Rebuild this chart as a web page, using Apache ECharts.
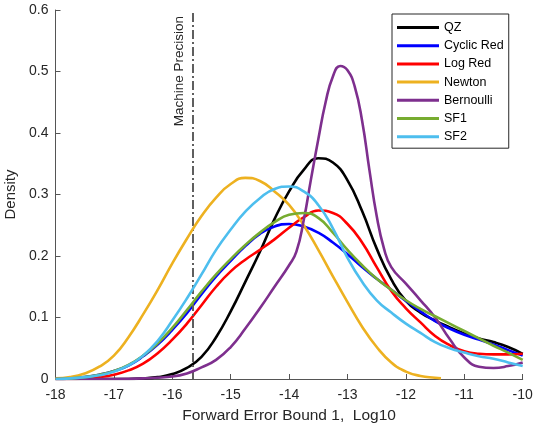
<!DOCTYPE html>
<html>
<head>
<meta charset="utf-8">
<script src="https://cdn.jsdelivr.net/npm/echarts@6/dist/echarts.min.js"></script>
<style>html,body{margin:0;padding:0;background:#fff;}#c{width:533px;height:430px;}</style>
</head>
<body>
<div id="c"></div>
<script>
// ---- data ----
const seriesNames = ['QZ', 'Cyclic Red', 'Log Red', 'Newton', 'Bernoulli', 'SF1', 'SF2'];
const xTicks = [-18, -17, -16, -15, -14, -13, -12, -11, -10];
const yTicks = [0, 0.1, 0.2, 0.3, 0.4, 0.5, 0.6];
const machinePrecision = -15.6536;

const xGrid = [-18,-17.75,-17.5,-17.25,-17,-16.75,-16.5,-16.25,-16,-15.75,-15.5,-15.25,-15,-14.75,-14.5,-14.25,-14,-13.75,-13.5,-13.25,-13,-12.75,-12.5,-12.25,-12,-11.75,-11.5,-11.25,-11,-10.75,-10.5,-10.25,-10];

const qz      = [0,0,0,0,0,0,0.001,0.003,0.008,0.018,0.036,0.068,0.11,0.158,0.207,0.26,0.305,0.34,0.359,0.352,0.323,0.273,0.212,0.162,0.127,0.108,0.095,0.084,0.074,0.066,0.06,0.052,0.041];
const cyclic  = [0,0.001,0.003,0.007,0.013,0.022,0.037,0.056,0.08,0.107,0.138,0.167,0.192,0.216,0.236,0.248,0.252,0.248,0.238,0.222,0.203,0.182,0.163,0.145,0.127,0.11,0.094,0.082,0.072,0.064,0.056,0.047,0.038];
const logRed  = [0,0,0.001,0.003,0.007,0.014,0.025,0.042,0.064,0.09,0.12,0.15,0.175,0.194,0.21,0.227,0.246,0.263,0.274,0.27,0.252,0.222,0.182,0.143,0.115,0.092,0.07,0.055,0.045,0.041,0.04,0.04,0.041];
const sf1     = [0,0.001,0.003,0.007,0.013,0.023,0.038,0.058,0.083,0.112,0.142,0.17,0.195,0.218,0.238,0.255,0.267,0.27,0.262,0.238,0.21,0.185,0.163,0.145,0.128,0.114,0.102,0.09,0.078,0.066,0.054,0.043,0.031];
const sf2     = [0,0.001,0.003,0.006,0.012,0.022,0.038,0.062,0.095,0.131,0.17,0.21,0.243,0.272,0.294,0.309,0.313,0.305,0.283,0.245,0.197,0.158,0.128,0.108,0.09,0.075,0.06,0.05,0.043,0.037,0.033,0.027,0.021];

const newtonX = [-18,-17.75,-17.5,-17.25,-17,-16.75,-16.5,-16.25,-16,-15.75,-15.5,-15.25,-15,-14.75,-14.5,-14.25,-14,-13.75,-13.5,-13.25,-13,-12.75,-12.5,-12.25,-12,-11.75,-11.5,-11.4];
const newton  = [0.001,0.003,0.009,0.02,0.038,0.068,0.105,0.145,0.188,0.228,0.265,0.295,0.317,0.327,0.322,0.305,0.283,0.25,0.21,0.167,0.125,0.085,0.052,0.027,0.012,0.005,0.002,0.001];

const bernX = [-18,-17,-16.5,-16,-15.75,-15.5,-15.25,-15,-14.75,-14.5,-14.25,-14,-13.875,-13.75,-13.625,-13.5,-13.375,-13.25,-13.125,-13,-12.875,-12.75,-12.625,-12.5,-12.375,-12.25,-12,-11.75,-11.5,-11.25,-11,-10.75,-10.5,-10.25,-10];
const bern  = [0,0,0.001,0.004,0.009,0.019,0.031,0.052,0.082,0.115,0.15,0.185,0.207,0.258,0.325,0.39,0.45,0.492,0.509,0.502,0.475,0.42,0.34,0.265,0.212,0.182,0.155,0.128,0.1,0.065,0.035,0.02,0.018,0.021,0.027];

const colors = ['#000000', '#0000FF', '#FF0000', '#EDB120', '#7E2F8E', '#77AC30', '#4DBEEE'];

// ---- build ----
function pairs(xs, ys) { return xs.map((x, i) => [x, ys[i]]); }
const seriesData = [
  pairs(xGrid, qz), pairs(xGrid, cyclic), pairs(xGrid, logRed), pairs(newtonX, newton),
  pairs(bernX, bern), pairs(xGrid, sf1), pairs(xGrid, sf2)
];
const FONT = '"Liberation Sans", Arial, Helvetica, sans-serif';
const TXT = '#262626';

const series = seriesNames.map((n, i) => ({
  name: n, type: 'line', data: seriesData[i], smooth: 0.5, symbol: 'none',
  lineStyle: { color: colors[i], width: 2.6 }, itemStyle: { color: colors[i] },
  z: 2 + i, animation: false
}));
series.push({
  name: 'mp', type: 'line', data: [], z: 20, animation: false,
  markLine: {
    silent: true, symbol: 'none', animation: false,
    lineStyle: { color: '#5f5f5f', width: 2, type: [9, 3, 2, 3] },
    label: { show: true, formatter: 'Machine Precision', position: 'insideEndTop',
      color: TXT, fontSize: 13.5, fontFamily: FONT, distance: 6 },
    data: [{ xAxis: machinePrecision }]
  }
});

const chart = echarts.init(document.getElementById('c'), null, { renderer: 'canvas' });
chart.setOption({
  animation: false,
  backgroundColor: '#ffffff',
  grid: { left: 55.5, right: 10.3, top: 10, bottom: 51, containLabel: false, outerBoundsMode: 'none' },
  legend: {
    data: seriesNames, orient: 'vertical', left: 392, top: 14,
    itemWidth: 42, itemHeight: 14, itemGap: 5.2,
    padding: [7, 5, 5, 5],
    backgroundColor: '#fff', borderColor: '#262626', borderWidth: 1,
    textStyle: { color: '#000', fontSize: 12.5, fontFamily: FONT },
    icon: 'path://M0,0 L42,0 L42,3 L0,3 Z'
  },
  xAxis: {
    type: 'value', min: xTicks[0], max: xTicks[xTicks.length - 1], interval: 1,
    name: 'Forward Error Bound 1,  Log10', nameLocation: 'middle', nameGap: 29,
    nameTextStyle: { color: TXT, fontSize: 15.5, fontFamily: FONT },
    axisLine: { show: true, lineStyle: { color: '#555', width: 1 } },
    axisTick: { show: true, inside: true, length: 5, lineStyle: { color: '#555' } },
    axisLabel: { color: TXT, fontSize: 14, fontFamily: FONT, margin: 9 },
    splitLine: { show: false }
  },
  yAxis: {
    type: 'value', min: yTicks[0], max: yTicks[yTicks.length - 1], interval: 0.1,
    name: 'Density', nameLocation: 'middle', nameGap: 34,
    nameTextStyle: { color: TXT, fontSize: 15, fontFamily: FONT },
    axisLine: { show: true, lineStyle: { color: '#555', width: 1 } },
    axisTick: { show: true, inside: true, length: 5, lineStyle: { color: '#555' } },
    axisLabel: { color: TXT, fontSize: 14, fontFamily: FONT, margin: 7 },
    splitLine: { show: false }
  },
  series: series
});
</script>
</body>
</html>
